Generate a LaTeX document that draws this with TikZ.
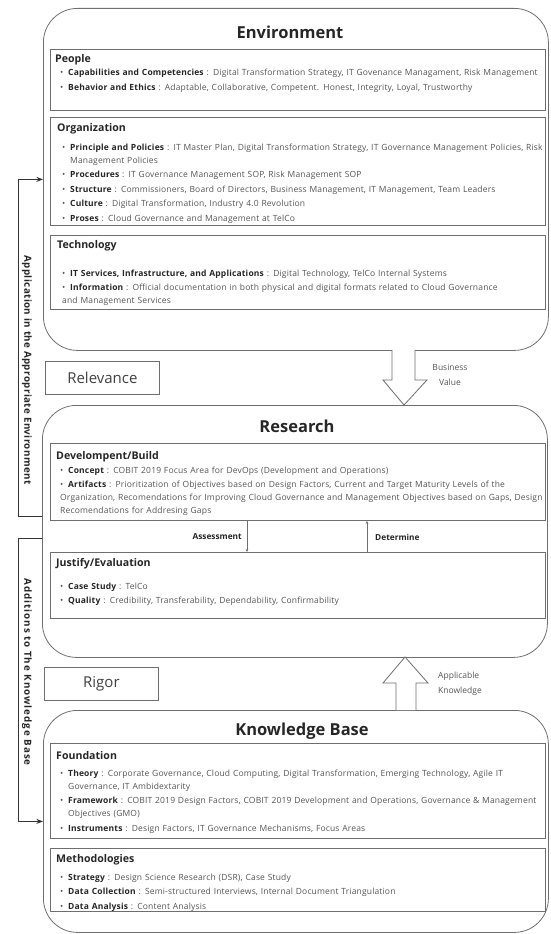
\documentclass[tikz,border=0pt]{standalone}
\usepackage{fontspec}
\setmainfont{Open Sans}
\usetikzlibrary{arrows.meta}
\definecolor{frameGray}{HTML}{6E6E6E}
\definecolor{bodyGray}{HTML}{555555}
\definecolor{termGray}{HTML}{262626}
\newcommand{\itm}[2]{\par\noindent\hangindent=8pt\hangafter=1\makebox[8pt][l]{\textbullet}{\color{termGray}\bfseries #1} : #2}

\begin{document}
\begin{tikzpicture}[x=1pt, y=-1pt, line cap=round, >=Stealth,
  outbox/.style={draw=frameGray, line width=0.8pt, rounded corners=34pt, minimum width=505pt, anchor=north west, inner sep=0pt},
  inbox/.style={draw=frameGray, line width=0.9pt, minimum width=495pt, anchor=north west, inner sep=0pt},
  title/.style={font=\bfseries\fontsize{16.5}{19}\selectfont, text=termGray},
  head/.style={anchor=west, inner sep=0pt, font=\bfseries\fontsize{10.6}{12}\selectfont, text=termGray},
  bullets/.style={anchor=north west, inner sep=0pt, text width=494pt, align=left, text=bodyGray,
    font=\fontsize{8.5}{13}\selectfont\addfontfeature{LetterSpace=2}\setlength{\parskip}{1.5pt}},
  tag/.style={draw=frameGray, line width=0.8pt, minimum width=114pt, minimum height=33pt, anchor=north west, inner sep=0pt, font=\fontsize{15}{17}\selectfont, text=black!75},
  hollow/.style={draw=frameGray, line width=0.8pt, fill=white, line join=miter},
  note/.style={align=center, inner sep=0pt, font=\fontsize{8.5}{15}\selectfont, text=bodyGray},
  flow/.style={draw=frameGray, line width=0.6pt, -{Stealth[length=3pt, width=2.6pt]}},
  flowlabel/.style={inner sep=0pt, font=\bfseries\fontsize{8.3}{9}\selectfont, text=termGray},
  bracket/.style={draw=black!80, line width=0.8pt},
  sidelabel/.style={rotate=-90, inner sep=0pt, font=\bfseries\fontsize{9.8}{11}\selectfont\addfontfeature{LetterSpace=4}, text=termGray}]
\useasboundingbox (0,0) rectangle (550,934);

% outer boxes
\node[outbox, minimum height=342pt] (env) at (43,8) {};
\node[outbox, minimum height=252pt] (research) at (42,405) {};
\node[outbox, minimum height=222pt] (kb) at (43,710) {};
\node[title] (env-t) at (290,32) {Environment};
\node[title] (research-t) at (297,426) {Research};
\node[title] (kb-t) at (302,731) {Knowledge Base};

% Environment
\node[inbox, minimum height=61pt] (people) at (50,49) {};
\node[head] (people-h) at (55,60) {People};
\node[bullets] (people-b) at (60,61) {%
  \itm{Capabilities and Competencies}{Digital Transformation Strategy, IT Govenance Managament, Risk Management}
  \itm{Behavior and Ethics}{Adaptable, Collaborative, Competent. Honest, Integrity, Loyal, Trustworthy}};

\node[inbox, minimum height=108pt] (org) at (50,117) {};
\node[head] (org-h) at (57,129) {Organization};
\node[bullets] (org-b) at (62,135.5) {%
  \itm{Principle and Policies}{IT Master Plan, Digital Transformation Strategy, IT Governance Management Policies, Risk\newline Management Policies}
  \itm{Procedures}{IT Governance Management SOP, Risk Management SOP}
  \itm{Structure}{Commissioners, Board of Directors, Business Management, IT Management, Team Leaders}
  \itm{Culture}{Digital Transformation, Industry 4.0 Revolution}
  \itm{Proses}{Cloud Governance and Management at TelCo}};

\node[inbox, minimum height=74pt] (tech) at (50,235) {};
\node[head] (tech-h) at (57,246) {Technology};
\node[bullets] (tech-b) at (62,261.5) {%
  \itm{IT Services, Infrastructure, and Applications}{Digital Technology, TelCo Internal Systems}
  \itm{Information}{Official documentation in both physical and digital formats related to Cloud Governance\newline and Management Services}};

% Research
\node[inbox, minimum height=77pt] (dev) at (50,443) {};
\node[head] (dev-h) at (56,457) {Develompent/Build};
\node[bullets] (dev-b) at (60,458.5) {%
  \itm{Concept}{COBIT 2019 Focus Area for DevOps (Development and Operations)}
  \itm{Artifacts}{Prioritization of Objectives based on Design Factors, Current and Target Maturity Levels of the\newline Organization, Recomendations for Improving Cloud Governance and Management Objectives based on Gaps, Design\newline Recomendations for Addresing Gaps}};

\node[inbox, minimum height=66pt] (justify) at (50,552) {};
\node[head] (justify-h) at (56,564) {Justify/Evaluation};
\node[bullets] (justify-b) at (60,574.5) {%
  \itm{Case Study}{TelCo}
  \itm{Quality}{Credibility, Transferability, Dependability, Confirmability}};

\coordinate (assess) at (247,536);
\coordinate (determ) at (367,536);
\draw[flow] (dev.south -| assess) -- (justify.north -| assess);
\draw[flow] (justify.north -| determ) -- (dev.south -| determ);
\node[flowlabel, anchor=east] (assess-l) at (242,537) {Assessment};
\node[flowlabel, anchor=west] (determ-l) at (375,537) {Determine};

% Knowledge Base
\node[inbox, minimum height=95pt] (found) at (50,743) {};
\node[head] (found-h) at (56,756) {Foundation};
\node[bullets] (found-b) at (60,761.5) {%
  \itm{Theory}{Corporate Governance, Cloud Computing, Digital Transformation, Emerging Technology, Agile IT\newline Governance, IT Ambidextarity}
  \itm{Framework}{COBIT 2019 Design Factors, COBIT 2019 Development and Operations, Governance \& Management\newline Objectives (GMO)}
  \itm{Instruments}{Design Factors, IT Governance Mechanisms, Focus Areas}};

\node[inbox, minimum height=63pt] (meth) at (50,848) {};
\node[head] (meth-h) at (56,860) {Methodologies};
\node[bullets] (meth-b) at (60,865.5) {%
  \itm{Strategy}{Design Science Research (DSR), Case Study}
  \itm{Data Collection}{Semi-structured Interviews, Internal Document Triangulation}
  \itm{Data Analysis}{Content Analysis}};

% relevance / rigor
\node[tag] (relevance) at (45,361) {Relevance};
\node[tag] (rigor) at (44,667) {Rigor};

% block arrows
\draw[hollow] (392,350) -- (392,380) -- (383,380) -- (404,405) -- (427,380) -- (415,380) -- (415,350);
\draw[hollow] (396,710) -- (396,683) -- (383,683) -- (405,657) -- (428,683) -- (416,683) -- (416,710);
\node[note] (value-l) at (450,375) {Business\\Value};
\node[note, align=left, anchor=west] (know-l) at (438,684) {Applicable\\Knowledge};

% side brackets
\coordinate (app) at (18,516);
\coordinate (add) at (18,538);
\draw[bracket, ->] (research.west |- app) -- (app) |- (env.west);
\draw[bracket, ->] (research.west |- add) -- (add) |- (kb.west);
\node[sidelabel] (app-l) at (27,370) {Application in the Appropriate Environment};
\node[sidelabel, font=\bfseries\fontsize{9.8}{11}\selectfont\addfontfeature{LetterSpace=10}] (add-l) at (27,672) {Additions to The Knowledge Base};
\end{tikzpicture}
\end{document}
